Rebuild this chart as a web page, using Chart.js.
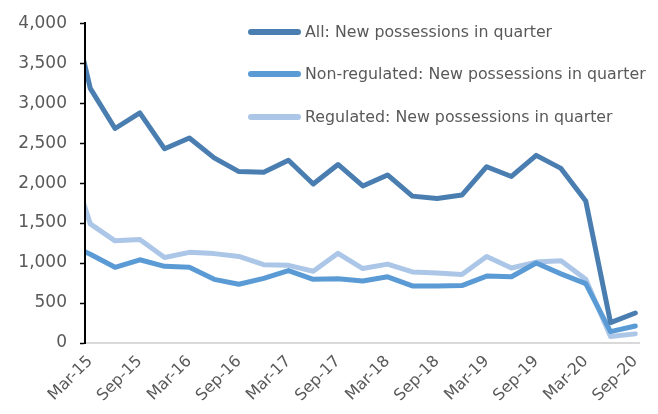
<!DOCTYPE html>
<html>
<head>
<meta charset="utf-8">
<script src="https://cdn.jsdelivr.net/npm/chart.js@4"></script>
<style>
    html, body { margin: 0; padding: 0; background: #ffffff; }
    canvas { display: block; }
</style>
</head>
<body>
<canvas id="possessionsChart" width="658" height="414"></canvas>
<script>
// Quarters, Dec-14 is only partly visible at the left edge
const quarters = [
    "Dec-14",
    "Mar-15", "Jun-15", "Sep-15", "Dec-15",
    "Mar-16", "Jun-16", "Sep-16", "Dec-16",
    "Mar-17", "Jun-17", "Sep-17", "Dec-17",
    "Mar-18", "Jun-18", "Sep-18", "Dec-18",
    "Mar-19", "Jun-19", "Sep-19", "Dec-19",
    "Mar-20", "Jun-20", "Sep-20",
];

const allPossessions = [
    4500,
    3185, 2683, 2879, 2429,
    2564, 2315, 2144, 2135,
    2286, 1988, 2233, 1964,
    2102, 1837, 1808, 1850,
    2205, 2083, 2347, 2184,
    1776, 255, 375,
];

const nonRegulated = [
    1250,
    1110, 947, 1041, 959,
    947, 796, 735, 808,
    906, 796, 804, 775,
    828, 714, 714, 718,
    837, 828, 1000, 865,
    742, 142, 212,
];

const regulated = [
    2450,
    1490, 1278, 1294, 1069,
    1134, 1118, 1082, 980,
    971, 898, 1122, 931,
    987, 889, 877, 857,
    1082, 938, 1012, 1029,
    796, 81, 114,
];

const seriesLabels = [
    "All: New possessions in quarter",
    "Non-regulated: New possessions in quarter",
    "Regulated: New possessions in quarter",
];

const yTicks = [0, 500, 1000, 1500, 2000, 2500, 3000, 3500, 4000];

const textColor = "#595959";
const fontFamily = "'DejaVu Sans', 'Liberation Sans', Arial, sans-serif";

function toPoints(values) {
    return values.map((v, i) => ({ x: i, y: v }));
}

// Legend sits inside the plot, drawn by hand
const insideLegend = {
    id: "insideLegend",
    afterDraw(chart) {
        const ctx = chart.ctx;
        const rows = [32, 74, 117];
        ctx.save();
        chart.data.datasets.forEach((ds, i) => {
            const y = rows[i];
            ctx.strokeStyle = ds.borderColor;
            ctx.lineWidth = 6;
            ctx.lineCap = "round";
            ctx.beginPath();
            ctx.moveTo(251, y);
            ctx.lineTo(298, y);
            ctx.stroke();
            ctx.fillStyle = textColor;
            ctx.font = "15.8px " + fontFamily;
            ctx.textBaseline = "middle";
            ctx.textAlign = "left";
            ctx.fillText(ds.label, 305, y + 1);
        });
        ctx.restore();
    },
};

const lineDefaults = {
    borderWidth: 5,
    pointRadius: 0,
    tension: 0,
    borderJoinStyle: "round",
    borderCapStyle: "round",
    fill: false,
    clip: { left: -1, top: false, right: false, bottom: false },
};

new Chart(document.getElementById("possessionsChart"), {
    type: "line",
    data: {
        datasets: [
            {
                ...lineDefaults,
                label: seriesLabels[0],
                data: toPoints(allPossessions),
                borderColor: "rgb(74, 126, 177)",
            },
            {
                ...lineDefaults,
                label: seriesLabels[1],
                data: toPoints(nonRegulated),
                borderColor: "rgb(91, 155, 213)",
            },
            {
                ...lineDefaults,
                label: seriesLabels[2],
                data: toPoints(regulated),
                borderColor: "rgb(172, 198, 231)",
            },
        ],
    },
    options: {
        responsive: false,
        animation: false,
        layout: {
            padding: { top: 17, right: 16, left: 0, bottom: 0 },
        },
        scales: {
            x: {
                type: "linear",
                min: 0.787,
                max: 23.17,
                afterBuildTicks: function (scale) {
                    const ticks = [];
                    for (let i = 1; i < quarters.length; i += 2) {
                        ticks.push({ value: i });
                    }
                    scale.ticks = ticks;
                },
                afterFit: function (scale) {
                    scale.height = 71;
                },
                ticks: {
                    autoSkip: false,
                    maxRotation: 45,
                    minRotation: 45,
                    padding: 9,
                    color: textColor,
                    font: { family: fontFamily, size: 16 },
                    callback: function (value) {
                        return quarters[value];
                    },
                },
                grid: {
                    display: true,
                    drawOnChartArea: false,
                    drawTicks: false,
                },
                border: {
                    display: true,
                    color: "#d9d9d9",
                    width: 2,
                },
            },
            y: {
                min: 0,
                max: 4000,
                afterBuildTicks: function (scale) {
                    scale.ticks = yTicks.map((v) => ({ value: v }));
                },
                afterFit: function (scale) {
                    scale.width = 85;
                },
                ticks: {
                    padding: 13,
                    color: textColor,
                    font: { family: fontFamily, size: 17 },
                    callback: function (value) {
                        return value.toLocaleString("en-US");
                    },
                },
                grid: {
                    display: true,
                    drawOnChartArea: false,
                    drawTicks: true,
                    tickLength: 5,
                    tickWidth: 1.5,
                    tickColor: "#000000",
                },
                border: {
                    display: true,
                    color: "#000000",
                    width: 2,
                },
            },
        },
        plugins: {
            legend: { display: false },
            tooltip: { enabled: false },
        },
    },
    plugins: [insideLegend],
});
</script>
</body>
</html>
